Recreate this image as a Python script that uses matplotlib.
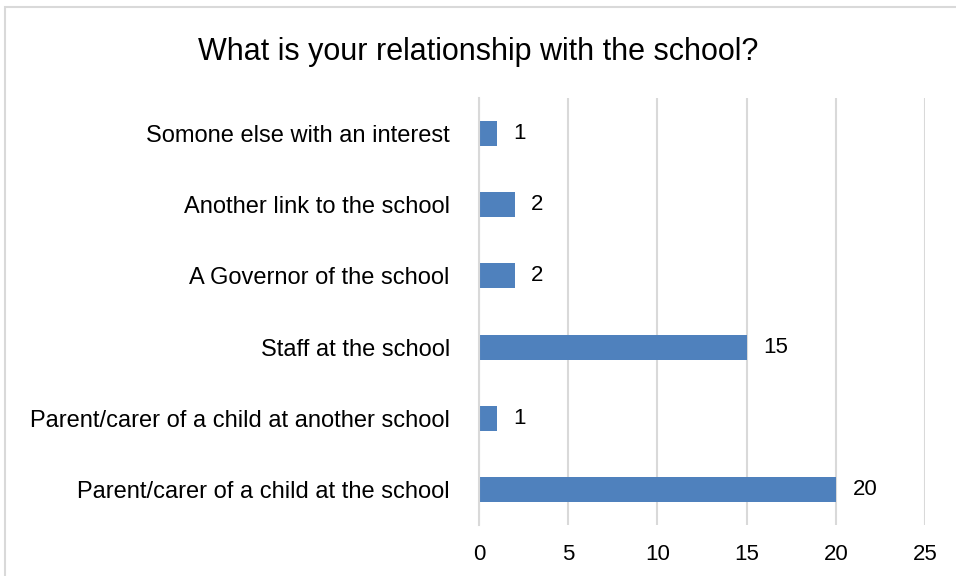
import matplotlib
matplotlib.use("Agg")
import matplotlib.pyplot as plt
from matplotlib.patches import Rectangle

categories = [
    "Parent/carer of a child at the school",
    "Parent/carer of a child at another school",
    "Staff at the school",
    "A Governor of the school",
    "Another link to the school",
    "Somone else with an interest",
]
counts = [20, 1, 15, 2, 2, 1]
x_ticks = [0, 5, 10, 15, 20, 25]

plt.rcParams["font.family"] = ["Liberation Sans", "DejaVu Sans"]

W, H = 956, 576
fig = plt.figure(figsize=(W / 100, H / 100), dpi=100)
fig.patches.append(Rectangle((5 / W, -0.1), 1.2, 1 - 7 / H + 0.1,
                             transform=fig.transFigure, fill=False,
                             edgecolor="#d9d9d9", linewidth=1.5))

ax = fig.add_axes([479 / W, 1 - 525 / H, (925 - 479) / W, (525 - 98) / H])
ax.barh(range(len(categories)), counts, height=0.35, color="#4f81bd")
for i, v in enumerate(counts):
    ax.annotate(str(v), (v, i), xytext=(12, 0), textcoords="offset points",
                va="center", ha="left", fontsize=16)

ax.set_xlim(0, 25)
ax.set_ylim(-0.5, len(categories) - 0.5)
ax.set_xticks(x_ticks)
ax.set_yticks(range(len(categories)))
ax.set_yticklabels(categories, fontsize=17)
ax.tick_params(axis="both", length=0)
ax.tick_params(axis="x", labelsize=16, pad=14)
ax.tick_params(axis="y", pad=21)
ax.grid(axis="x", color="#d9d9d9", linewidth=1.5)
ax.set_axisbelow(True)
for s in ["top", "right", "bottom"]:
    ax.spines[s].set_visible(False)
ax.spines["left"].set_color("#d9d9d9")
ax.spines["left"].set_linewidth(1.5)

fig.text(0.5, 1 - 52 / H, "What is your relationship with the school?",
         ha="center", va="center", fontsize=22)

fig.savefig("out.png", dpi=100)
